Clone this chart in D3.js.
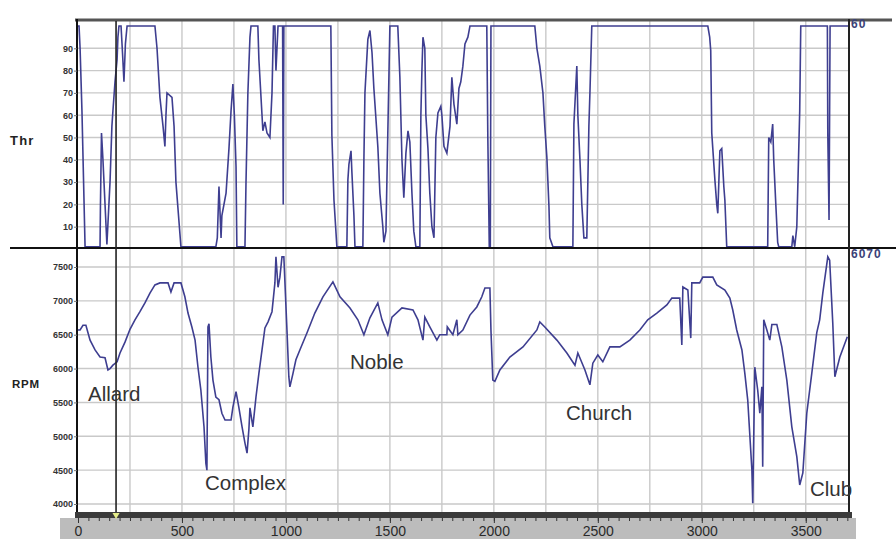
<!DOCTYPE html>
<html>
<head>
<meta charset="utf-8">
<script src="https://cdn.jsdelivr.net/npm/d3@7"></script>
<style>
  body { margin: 0; background: #fff; }
  svg { display: block; font-family: "Liberation Sans", Arial, sans-serif; }
</style>
</head>
<body>
<div id="chart"></div>
<script>
// throttle trace, [distance, percent]
var throttle = [[0,100],[5,100],[10,90],[19,62],[34,1],[106,1],[108,20],[113,52],[120,40],[130,20],[139,2],[154,30],[163,55],[168,62],[178,75],[188,85],[192,95],[197,100],[207,100],[214,88],[221,75],[228,92],[236,100],[370,100],[380,90],[394,68],[409,55],[418,46],[423,60],[428,70],[452,68],[462,55],[471,30],[495,1],[663,1],[670,5],[678,28],[688,5],[692,15],[712,25],[726,45],[736,62],[745,74],[752,60],[760,37],[764,1],[803,1],[808,30],[817,70],[827,95],[832,100],[865,100],[870,85],[885,60],[889,53],[899,57],[909,52],[923,50],[933,70],[940,100],[947,100],[952,80],[962,100],[984,100],[987,20],[990,100],[1216,100],[1221,51],[1231,22],[1245,1],[1293,1],[1298,31],[1303,38],[1313,44],[1317,35],[1327,15],[1332,1],[1370,1],[1375,40],[1380,70],[1394,94],[1404,98],[1414,88],[1423,72],[1442,46],[1452,25],[1466,10],[1471,3],[1481,8],[1490,52],[1500,100],[1538,100],[1548,77],[1558,40],[1567,23],[1577,43],[1587,53],[1596,48],[1606,25],[1615,8],[1625,1],[1644,1],[1649,60],[1654,80],[1659,95],[1668,90],[1673,60],[1683,45],[1692,25],[1702,10],[1712,5],[1721,50],[1731,61],[1745,64],[1750,60],[1760,46],[1774,43],[1789,55],[1798,77],[1808,65],[1822,56],[1832,72],[1841,75],[1851,82],[1861,92],[1875,95],[1885,100],[1966,100],[1971,50],[1978,1],[1983,1],[1986,100],[2197,100],[2207,90],[2221,82],[2236,70],[2245,55],[2255,41],[2265,19],[2269,5],[2284,1],[2380,1],[2385,56],[2399,82],[2404,60],[2414,40],[2423,20],[2433,5],[2447,5],[2457,55],[2462,70],[2471,100],[3029,100],[3038,95],[3043,89],[3048,52],[3053,45],[3063,31],[3072,20],[3077,16],[3087,44],[3096,45],[3106,28],[3111,22],[3120,1],[3317,1],[3322,50],[3332,48],[3341,56],[3346,40],[3356,20],[3365,3],[3370,1],[3433,1],[3438,6],[3447,1],[3457,10],[3471,62],[3476,100],[3604,100],[3606,52],[3612,13],[3617,100],[3708,100]];

// engine speed trace, [distance, rpm]
var rpm = [[0,6570],[10,6570],[24,6640],[38,6640],[58,6420],[82,6275],[106,6170],[130,6160],[144,5980],[154,6000],[168,6050],[188,6100],[202,6230],[226,6390],[250,6580],[274,6720],[298,6840],[322,6970],[346,7115],[370,7235],[394,7265],[433,7265],[447,7130],[462,7265],[495,7265],[514,7060],[529,6820],[548,6610],[563,6420],[577,6020],[591,5680],[606,5140],[615,4600],[620,4500],[625,6615],[630,6660],[639,6170],[649,5830],[663,5580],[678,5540],[692,5340],[707,5240],[736,5240],[745,5430],[760,5660],[774,5420],[789,5140],[803,4900],[813,4750],[822,5110],[827,5420],[841,5140],[856,5580],[870,5930],[885,6275],[899,6600],[914,6690],[933,6840],[947,7265],[952,7650],[962,7200],[971,7350],[981,7650],[990,7650],[1005,6570],[1014,5880],[1019,5730],[1034,5930],[1048,6130],[1067,6275],[1101,6525],[1139,6820],[1178,7060],[1226,7280],[1260,7060],[1308,6895],[1346,6720],[1375,6500],[1404,6750],[1442,6970],[1462,6720],[1490,6500],[1510,6760],[1558,6895],[1611,6865],[1635,6720],[1659,6420],[1668,6760],[1692,6615],[1726,6420],[1740,6500],[1774,6500],[1776,6615],[1803,6500],[1822,6720],[1827,6500],[1851,6570],[1885,6790],[1918,6910],[1942,7060],[1957,7190],[1981,7190],[1986,6570],[1995,5830],[2005,5810],[2029,5980],[2077,6170],[2140,6320],[2207,6570],[2221,6690],[2245,6615],[2303,6420],[2351,6230],[2390,6050],[2404,6230],[2438,5980],[2462,5760],[2476,6080],[2500,6200],[2524,6100],[2558,6320],[2606,6320],[2654,6420],[2702,6570],[2740,6720],[2784,6820],[2832,6940],[2856,7040],[2894,7040],[2904,6350],[2909,7205],[2933,7160],[2947,6450],[2952,7265],[2990,7265],[3005,7350],[3053,7350],[3072,7235],[3111,7160],[3135,7040],[3149,6865],[3168,6570],[3193,6275],[3207,5930],[3221,5535],[3241,4500],[3245,4010],[3255,6020],[3269,5680],[3279,5340],[3289,5730],[3293,4550],[3298,6720],[3313,6570],[3327,6420],[3337,6650],[3361,6650],[3385,6320],[3409,5830],[3433,5140],[3457,4700],[3471,4280],[3486,4460],[3505,5340],[3529,5930],[3553,6530],[3567,6720],[3582,7115],[3606,7650],[3615,7600],[3630,6670],[3640,5880],[3664,6170],[3700,6470]];

var thrTicks = [10,20,30,40,50,60,70,80,90];
var rpmTicks = [4000,4500,5000,5500,6000,6500,7000,7500];
var distTicks = [0,500,1000,1500,2000,2500,3000,3500];
var corners = [
  { name: "Allard", x: 88, y: 401 },
  { name: "Complex", x: 205, y: 490 },
  { name: "Noble", x: 350, y: 369 },
  { name: "Church", x: 566, y: 420 },
  { name: "Club", x: 810, y: 496 }
];
var cursorAt = 183;

var W = 896, H = 539;
var L = 77, R = 849, T = 21, M = 248, B = 513;
var lineColor = "#3e3e90";

var svg = d3.select("#chart").append("svg").attr("width", W).attr("height", H);

var x = d3.scaleLinear().domain([0, 3708]).range([78, R]);
var yThr = d3.scaleLinear().domain([0, 100]).range([249, 26]);
var yRpm = d3.scaleLinear().domain([4000, 7500]).range([504, 267]);

var defs = svg.append("defs");
defs.append("clipPath").attr("id", "clipTop").append("rect")
  .attr("x", L).attr("y", T).attr("width", R - L).attr("height", M - T);
defs.append("clipPath").attr("id", "clipBot").append("rect")
  .attr("x", L).attr("y", M).attr("width", R - L).attr("height", B - M);

// grid
var grid = svg.append("g").attr("stroke", "#c9c9c9").attr("stroke-width", 1.4);
grid.selectAll("line.v").data(d3.range(250, 3708, 250)).join("line")
  .attr("x1", function(d) { return x(d); }).attr("x2", function(d) { return x(d); })
  .attr("y1", T).attr("y2", B);
grid.selectAll("line.ht").data(thrTicks).join("line")
  .attr("x1", L).attr("x2", R)
  .attr("y1", function(d) { return yThr(d); }).attr("y2", function(d) { return yThr(d); });
grid.selectAll("line.hr").data(rpmTicks).join("line").attr("class", "hr")
  .attr("x1", L).attr("x2", R)
  .attr("y1", function(d) { return yRpm(d); }).attr("y2", function(d) { return yRpm(d); });

// traces
var lineThr = d3.line().x(function(d) { return x(d[0]); }).y(function(d) { return yThr(d[1]); });
var lineRpm = d3.line().x(function(d) { return x(d[0]); }).y(function(d) { return yRpm(d[1]); });
svg.append("path").attr("clip-path", "url(#clipTop)").attr("d", lineThr(throttle))
  .attr("fill", "none").attr("stroke", lineColor).attr("stroke-width", 1.6);
svg.append("path").attr("clip-path", "url(#clipBot)").attr("d", lineRpm(rpm))
  .attr("fill", "none").attr("stroke", lineColor).attr("stroke-width", 1.6);

// frame
svg.append("line").attr("x1", 75).attr("x2", 892).attr("y1", T - 1).attr("y2", T - 1)
  .attr("stroke", "#555").attr("stroke-width", 3);
svg.append("line").attr("x1", 10).attr("x2", W).attr("y1", M).attr("y2", M)
  .attr("stroke", "#111").attr("stroke-width", 2.2);
svg.append("line").attr("x1", L).attr("x2", L).attr("y1", T - 2).attr("y2", B)
  .attr("stroke", "#111").attr("stroke-width", 2);
svg.append("line").attr("x1", R).attr("x2", R).attr("y1", T - 2).attr("y2", B)
  .attr("stroke", "#222").attr("stroke-width", 2);

// cursor
svg.append("line").attr("x1", x(cursorAt)).attr("x2", x(cursorAt)).attr("y1", T).attr("y2", B)
  .attr("stroke", "#222").attr("stroke-width", 1.6);

// x axis band
svg.append("rect").attr("x", 60).attr("y", 518).attr("width", 796).attr("height", 21).attr("fill", "#bcbcbc");
svg.append("rect").attr("x", 75).attr("y", B - 1).attr("width", R - 75 + 3).attr("height", 6).attr("fill", "#3b3b3b");
svg.append("path").attr("d", d3.symbol(d3.symbolTriangle, 22)())
  .attr("transform", "translate(" + x(cursorAt) + "," + (B + 2) + ") rotate(180)")
  .attr("fill", "#e6ee8a");

var minor = d3.axisBottom(x).tickValues(d3.range(50, 3708, 50)).tickSize(3).tickFormat("");
svg.append("g").attr("transform", "translate(0,518)").call(minor)
  .call(function(g) { g.select(".domain").remove(); g.selectAll("line").attr("stroke", "#333"); });
var major = d3.axisBottom(x).tickValues(distTicks).tickSize(5).tickPadding(3).tickFormat(d3.format("d"));
svg.append("g").attr("transform", "translate(0,518)").call(major)
  .call(function(g) {
    g.select(".domain").remove();
    g.selectAll("line").attr("stroke", "#333");
    g.selectAll("text").attr("font-size", 14).attr("fill", "#2a2a2a")
      .attr("font-family", "'Liberation Sans', Arial, sans-serif");
  });

// left axes
function styleLeft(g) {
  g.select(".domain").remove();
  g.selectAll("line").attr("stroke", "#777");
  g.selectAll("text").attr("font-size", 9).attr("font-weight", "bold").attr("fill", "#333")
    .attr("font-family", "'Liberation Sans', Arial, sans-serif");
}
svg.append("g").attr("transform", "translate(" + L + ",0)")
  .call(d3.axisLeft(yThr).tickValues(thrTicks).tickSize(3).tickPadding(1)).call(styleLeft);
svg.append("g").attr("transform", "translate(" + L + ",0)")
  .call(d3.axisLeft(yRpm).tickValues(rpmTicks).tickSize(3).tickPadding(1).tickFormat(d3.format("d"))).call(styleLeft);

svg.append("text").attr("x", 10).attr("y", 145).text("Thr")
  .attr("font-size", 13).attr("font-weight", "bold").attr("letter-spacing", 1.2).attr("fill", "#222");
svg.append("text").attr("x", 12).attr("y", 388).text("RPM")
  .attr("font-size", 11.5).attr("font-weight", "bold").attr("letter-spacing", 0.8).attr("fill", "#222");

svg.append("text").attr("x", 851).attr("y", 28).text("60")
  .attr("font-size", 12).attr("font-weight", "bold").attr("letter-spacing", 1).attr("fill", "#3b4278");
svg.append("text").attr("x", 851).attr("y", 258).text("6070")
  .attr("font-size", 12).attr("font-weight", "bold").attr("letter-spacing", 1).attr("fill", "#3b4278");

// corner names
svg.append("g").selectAll("text").data(corners).join("text")
  .attr("x", function(d) { return d.x; }).attr("y", function(d) { return d.y; })
  .text(function(d) { return d.name; })
  .attr("font-size", 20.5).attr("fill", "#333");
</script>
</body>
</html>
